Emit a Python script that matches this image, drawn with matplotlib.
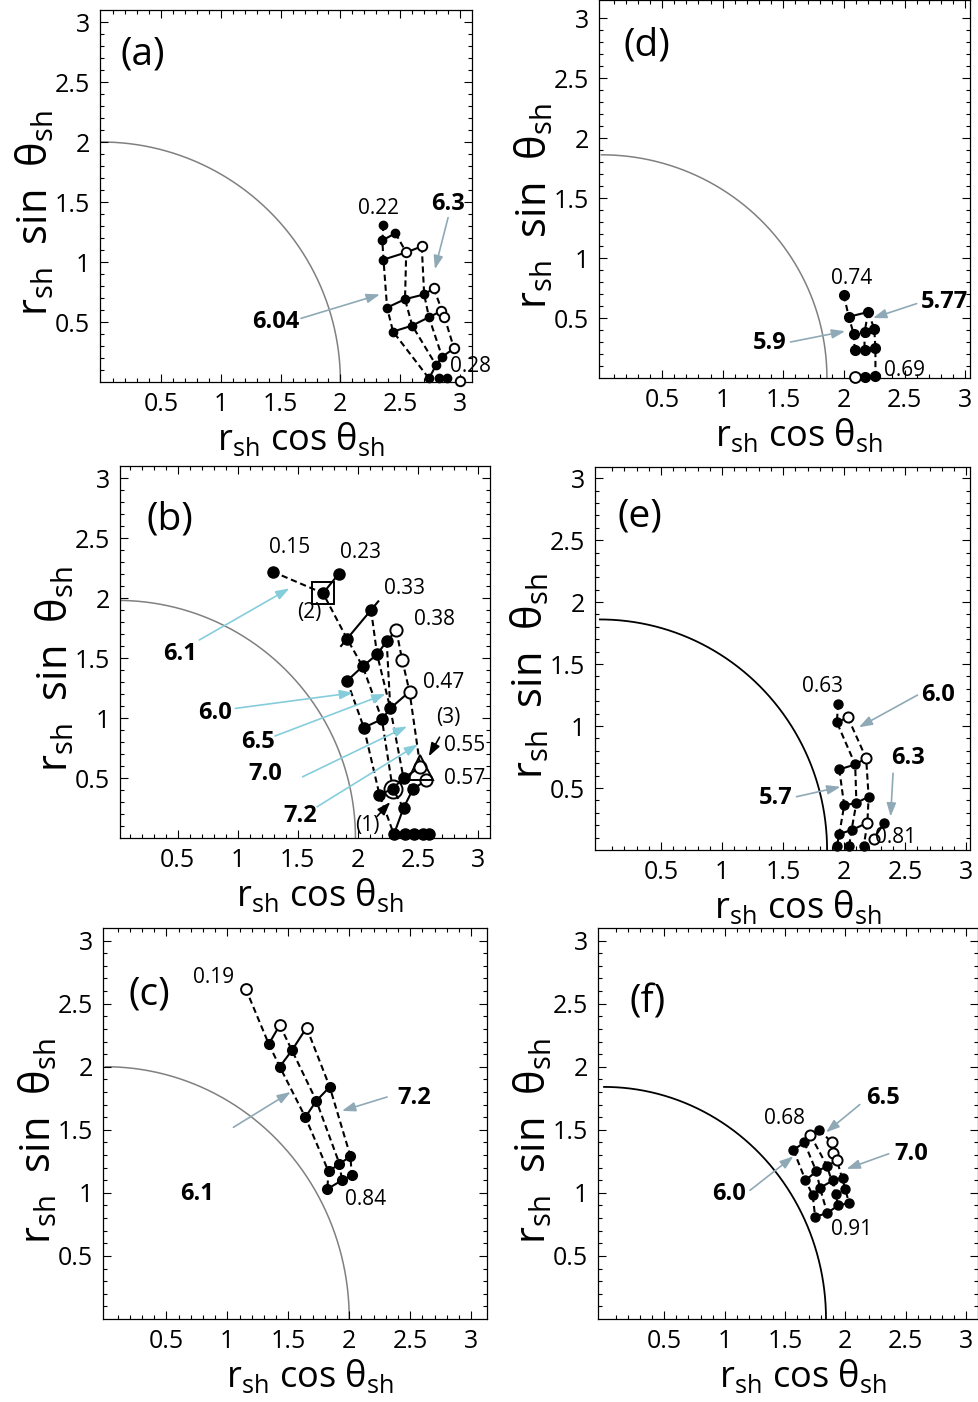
import numpy as np
import matplotlib.pyplot as plt

plt.rcParams['font.family'] = ['Open Sans', 'DejaVu Sans']
plt.rcParams['mathtext.fontset'] = 'custom'
plt.rcParams['mathtext.rm'] = 'Open Sans'

# ---------------- data ----------------
# panel (a)
a_x = [2.36, 2.35, 2.46, 2.36, 2.55, 2.68, 2.39, 2.54, 2.70, 2.78, 2.44, 2.60,
       2.74, 2.84, 2.87, 2.95, 2.85, 2.80, 2.74, 2.82, 2.89, 3.00]
a_y = [1.31, 1.18, 1.24, 1.02, 1.08, 1.13, 0.62, 0.69, 0.73, 0.78, 0.42, 0.47,
       0.54, 0.59, 0.54, 0.28, 0.21, 0.14, 0.03, 0.03, 0.03, 0.01]
a_open = [4, 5, 9, 13, 14, 15, 21]
a_solid = [[1, 2], [3, 4, 5], [6, 7, 8, 9], [10, 11, 12, 13], [18, 17, 16, 15]]
a_dash = [[0, 1, 3, 6, 10, 18], [2, 4, 7, 11, 17], [5, 8, 12, 16], [9, 14, 15]]

# panel (b)
b_x = [1.29, 1.71, 1.84, 1.91, 2.11, 2.32, 2.24, 2.16, 2.04, 1.91, 2.37, 2.43,
       2.27, 2.20, 2.05, 2.52, 2.57, 2.46, 2.38, 2.29, 2.18, 2.38,
       2.30, 2.39, 2.47, 2.54, 2.59]
b_y = [2.22, 2.04, 2.20, 1.66, 1.90, 1.73, 1.64, 1.53, 1.43, 1.31, 1.48, 1.22,
       1.08, 0.99, 0.92, 0.59, 0.48, 0.41, 0.50, 0.41, 0.36, 0.25,
       0.03, 0.03, 0.03, 0.03, 0.03]
b_open = [5, 10, 11, 15, 16]
b_solid = [[1, 2], [9, 8, 7, 6, 5], [14, 13, 12, 11], [20, 19, 18, 15],
           [22, 21, 17, 16]]
b_dash = [[0, 1, 3, 8, 13, 19, 21], [9, 14, 20, 22], [4, 7, 12, 18, 17],
          [5, 10, 11, 15, 16], [6, 12]]
b_long = [3, 4]          # solid line drawn past its two points (0.33)
b_square, b_triangle, b_ring = 1, 15, 19

# panel (c)
c_x = [1.15, 1.34, 1.43, 1.43, 1.53, 1.65, 1.64, 1.73, 1.84, 1.83, 1.92, 2.01,
       1.82, 1.94, 2.02]
c_y = [2.62, 2.18, 2.33, 2.00, 2.13, 2.31, 1.60, 1.73, 1.84, 1.17, 1.23, 1.29,
       1.03, 1.10, 1.14]
c_open = [0, 2, 5]
c_solid = [[1, 2], [3, 4, 5], [6, 7, 8], [9, 10, 11], [12, 13, 14]]
c_dash = [[0, 1, 3, 6, 9, 12], [2, 4, 7, 10, 13], [5, 8, 11, 14]]

# panel (d)
d_x = [2.00, 2.04, 2.20, 2.08, 2.17, 2.25, 2.09, 2.17, 2.26, 2.09, 2.17, 2.26]
d_y = [0.69, 0.51, 0.55, 0.37, 0.38, 0.41, 0.23, 0.23, 0.25, 0.01, 0.01, 0.02]
d_open = [9]
d_solid = [[1, 2]]
d_dash = [[0, 1, 3, 6], [2, 4, 7], [2, 5, 8, 11]]

# panel (e)
e_x = [1.95, 1.94, 2.03, 2.18, 2.09, 1.96, 2.20, 2.10, 2.00, 2.19, 2.33, 2.06,
       1.96, 2.24, 1.94, 2.04, 2.16]
e_y = [1.18, 1.03, 1.07, 0.74, 0.69, 0.65, 0.43, 0.38, 0.36, 0.22, 0.22, 0.16,
       0.13, 0.09, 0.03, 0.03, 0.03]
e_open = [2, 3, 9, 13]
e_solid = [[1, 2], [5, 4, 3], [8, 7, 6], [12, 11, 9], [13, 10]]
e_dash = [[0, 1, 4, 7, 11, 15], [2, 3, 6, 9, 16], [5, 8, 12, 14]]

# panel (f)
f_x = [1.57, 1.66, 1.71, 1.78, 1.89, 1.90, 1.93, 1.76, 1.85, 1.67, 1.90, 1.98,
       1.79, 1.73, 1.92, 2.00, 1.75, 1.85, 1.94, 2.03]
f_y = [1.34, 1.40, 1.46, 1.50, 1.40, 1.32, 1.26, 1.17, 1.21, 1.10, 1.10, 1.12,
       1.04, 0.98, 0.99, 1.03, 0.81, 0.84, 0.90, 0.92]
f_open = [2, 4, 5, 6]
f_solid = [[0, 1, 2, 3], [9, 7, 8, 6], [13, 12, 10, 11], [16, 17, 18, 19]]
f_dash = [[0, 9, 13, 16], [1, 7, 12, 17], [2, 8, 14, 18], [3, 4, 5, 6, 15, 19],
          [10, 14]]

# shadow radius in each panel
radii = [2.0, 1.98, 2.0, 1.86, 1.86, 1.84]

# text labels: (text, x, y, bold)
a_text = [("0.22", 2.32, 1.45, False), ("0.28", 3.09, 0.13, False),
          ("6.3", 2.90, 1.48, True), ("6.04", 1.46, 0.50, True)]
b_text = [("0.15", 1.43, 2.42, False), ("0.23", 2.02, 2.38, False),
          ("(2)", 1.60, 1.88, False), ("0.33", 2.39, 2.08, False),
          ("0.38", 2.64, 1.82, False), ("0.47", 2.71, 1.30, False),
          ("(3)", 2.75, 1.00, False), ("0.55", 2.89, 0.77, False),
          ("0.57", 2.89, 0.50, False), ("(1)", 2.08, 0.10, False),
          ("6.1", 0.52, 1.53, True), ("6.0", 0.81, 1.04, True),
          ("6.5", 1.17, 0.80, True), ("7.0", 1.23, 0.53, True),
          ("7.2", 1.52, 0.18, True)]
c_text = [("0.19", 0.89, 2.71, False), ("6.1", 0.75, 0.99, True),
          ("7.2", 2.53, 1.75, True), ("0.84", 2.13, 0.95, False)]
d_text = [("0.74", 2.06, 0.83, False), ("0.69", 2.50, 0.06, False),
          ("5.77", 2.83, 0.63, True), ("5.9", 1.39, 0.29, True)]
e_text = [("0.63", 1.82, 1.32, False), ("6.0", 2.77, 1.25, True),
          ("6.3", 2.52, 0.74, True), ("5.7", 1.44, 0.42, True),
          ("0.81", 2.42, 0.10, False)]
f_text = [("0.68", 1.50, 1.59, False), ("6.5", 2.31, 1.75, True),
          ("7.0", 2.55, 1.31, True), ("6.0", 1.04, 0.99, True),
          ("0.91", 2.05, 0.71, False)]

# arrows: (tail x, tail y, head x, head y, kind)
a_arrows = [(2.90, 1.37, 2.79, 0.94, 'g'), (1.67, 0.53, 2.33, 0.73, 'g')]
b_arrows = [(0.68, 1.65, 1.43, 2.08, 'c'), (0.98, 1.08, 1.96, 1.21, 'c'),
            (1.31, 0.85, 2.23, 1.20, 'c'), (1.54, 0.51, 2.41, 0.93, 'c'),
            (1.66, 0.26, 2.50, 0.78, 'c'), (2.68, 0.84, 2.59, 0.68, 'k'),
            (2.16, 0.18, 2.27, 0.30, 'k')]
c_arrows = [(1.05, 1.52, 1.52, 1.80, 'g'), (2.31, 1.76, 1.94, 1.65, 'g')]
d_arrows = [(2.60, 0.62, 2.24, 0.50, 'g'), (1.56, 0.30, 2.01, 0.39, 'g')]
e_arrows = [(2.60, 1.25, 2.12, 0.99, 'g'), (2.40, 0.62, 2.38, 0.27, 'g'),
            (1.61, 0.43, 1.97, 0.51, 'g')]
f_arrows = [(2.12, 1.70, 1.84, 1.48, 'g'), (2.36, 1.31, 2.01, 1.19, 'g'),
            (1.21, 1.02, 1.57, 1.29, 'g')]

arrow_col = {'g': '#8fa9b6', 'c': '#86cddc', 'k': 'black'}

W, H = 979, 1402
fig = plt.figure(figsize=(W / 100, H / 100), dpi=100)


def px_axes(l, t, r, b):
    return fig.add_axes([l / W, 1 - b / H, (r - l) / W, (b - t) / H])


# box in pixels, xlim, ylim, circle colour, panel-label position (axes fraction)
panels = [
    ("(a)", (100, 10, 472, 382), (-0.01, 3.10), (0, 3.10), 'gray', (0.115, 0.88),
     a_x, a_y, a_open, a_solid, a_dash, a_text, a_arrows, 6.0),
    ("(d)", (599, 0, 970, 378), (-0.02, 3.04), (0, 3.15), 'gray', (0.13, 0.88),
     d_x, d_y, d_open, d_solid, d_dash, d_text, d_arrows, 7.0),
    ("(b)", (120, 466, 490, 838), (0.02, 3.10), (0, 3.10), 'gray', (0.135, 0.855),
     b_x, b_y, b_open, b_solid, b_dash, b_text, b_arrows, 8.0),
    ("(e)", (595, 467, 970, 850), (-0.04, 3.03), (0, 3.09), 'black', (0.12, 0.87),
     e_x, e_y, e_open, e_solid, e_dash, e_text, e_arrows, 6.5),
    ("(c)", (103, 928, 487, 1319), (-0.02, 3.13), (0, 3.10), 'gray', (0.12, 0.83),
     c_x, c_y, c_open, c_solid, c_dash, c_text, c_arrows, 7.0),
    ("(f)", (598, 928, 978, 1319), (-0.05, 3.10), (0, 3.10), 'black', (0.13, 0.81),
     f_x, f_y, f_open, f_solid, f_dash, f_text, f_arrows, 6.5),
]
radius_of = {"(a)": radii[0], "(b)": radii[1], "(c)": radii[2],
             "(d)": radii[3], "(e)": radii[4], "(f)": radii[5]}

xlab = r'r$_\mathregular{sh}$ cos θ$_\mathregular{sh}$'
ylab = r'r$_\mathregular{sh}$  sin  θ$_\mathregular{sh}$'

for (name, box, xl, yl, ccol, lpos, xs, ys, opn, solid, dash, texts, arrows, ms) in panels:
    ax = px_axes(*box)
    xs = np.array(xs)
    ys = np.array(ys)

    # shadow circle
    th = np.linspace(0, np.pi / 2, 200)
    R = radius_of[name]
    ax.plot(R * np.cos(th), R * np.sin(th), color=ccol, lw=1.3 if ccol == 'black' else 1.1,
            zorder=1)

    for idx in dash:
        ax.plot(xs[idx], ys[idx], color='black', lw=1.5, dashes=(3, 1.8), zorder=2)
    for idx in solid:
        ax.plot(xs[idx], ys[idx], color='black', lw=1.5, zorder=2)

    if name == "(b)":
        p, q = b_long
        t = np.array([-0.25, 1.3])
        ax.plot(xs[p] + t * (xs[q] - xs[p]), ys[p] + t * (ys[q] - ys[p]),
                color='black', lw=1.5, zorder=2)

    filled = [i for i in range(len(xs)) if i not in opn]
    ax.plot(xs[filled], ys[filled], 'o', ms=ms, color='black', mec='black',
            ls='none', zorder=4, clip_on=False)
    ax.plot(xs[opn], ys[opn], 'o', ms=ms + 0.8, mfc='white', mec='black', mew=1.4,
            ls='none', zorder=4, clip_on=False)

    if name == "(b)":
        ax.plot(xs[b_square], ys[b_square], 's', ms=16, mfc='none', mec='black',
                mew=1.4, zorder=5)
        ax.plot(xs[b_triangle], ys[b_triangle], '^', ms=18, mfc='none', mec='black',
                mew=1.4, zorder=5)
        ax.plot(xs[b_ring], ys[b_ring], 'o', ms=13, mfc='none', mec='black',
                mew=1.4, zorder=5)

    for (s, tx, ty, bold) in texts:
        ax.text(tx, ty, s, ha='center', va='center',
                fontsize=17 if bold else 15,
                fontweight='bold' if bold else 'normal', zorder=6)

    for (x0, y0, x1, y1, k) in arrows:
        ax.annotate('', xy=(x1, y1), xytext=(x0, y0),
                    arrowprops=dict(arrowstyle='-|>,head_length=0.8,head_width=0.28',
                                    color=arrow_col[k], lw=1.2,
                                    shrinkA=0, shrinkB=0), zorder=6)

    ax.text(lpos[0], lpos[1], name, transform=ax.transAxes, ha='center',
            va='center', fontsize=28)

    ax.set_xlim(*xl)
    ax.set_ylim(*yl)
    ticks = [0.5, 1, 1.5, 2, 2.5, 3]
    ax.set_xticks(ticks)
    ax.set_yticks(ticks)
    ax.set_xticklabels(['0.5', '1', '1.5', '2', '2.5', '3'])
    ax.set_yticklabels(['0.5', '1', '1.5', '2', '2.5', '3'])
    ax.set_xticks(np.arange(0.1, 3.1, 0.1), minor=True)
    ax.set_yticks(np.arange(0.1, 3.1, 0.1), minor=True)
    ax.tick_params(which='both', direction='in', top=True, right=True,
                   labelsize=18, pad=7, width=0.8)
    ax.tick_params(which='major', length=6)
    ax.tick_params(which='minor', length=3)
    for sp in ax.spines.values():
        sp.set_linewidth(0.9)

    ax.set_xlabel(xlab, fontsize=26, va='center')
    ax.set_ylabel(ylab, fontsize=30, va='center')
    h = box[3] - box[1]
    w = box[2] - box[0]
    ax.xaxis.set_label_coords(0.54, -58 / h)
    ax.yaxis.set_label_coords(-64 / w, 0.455)

fig.savefig('out.png', dpi=100)
